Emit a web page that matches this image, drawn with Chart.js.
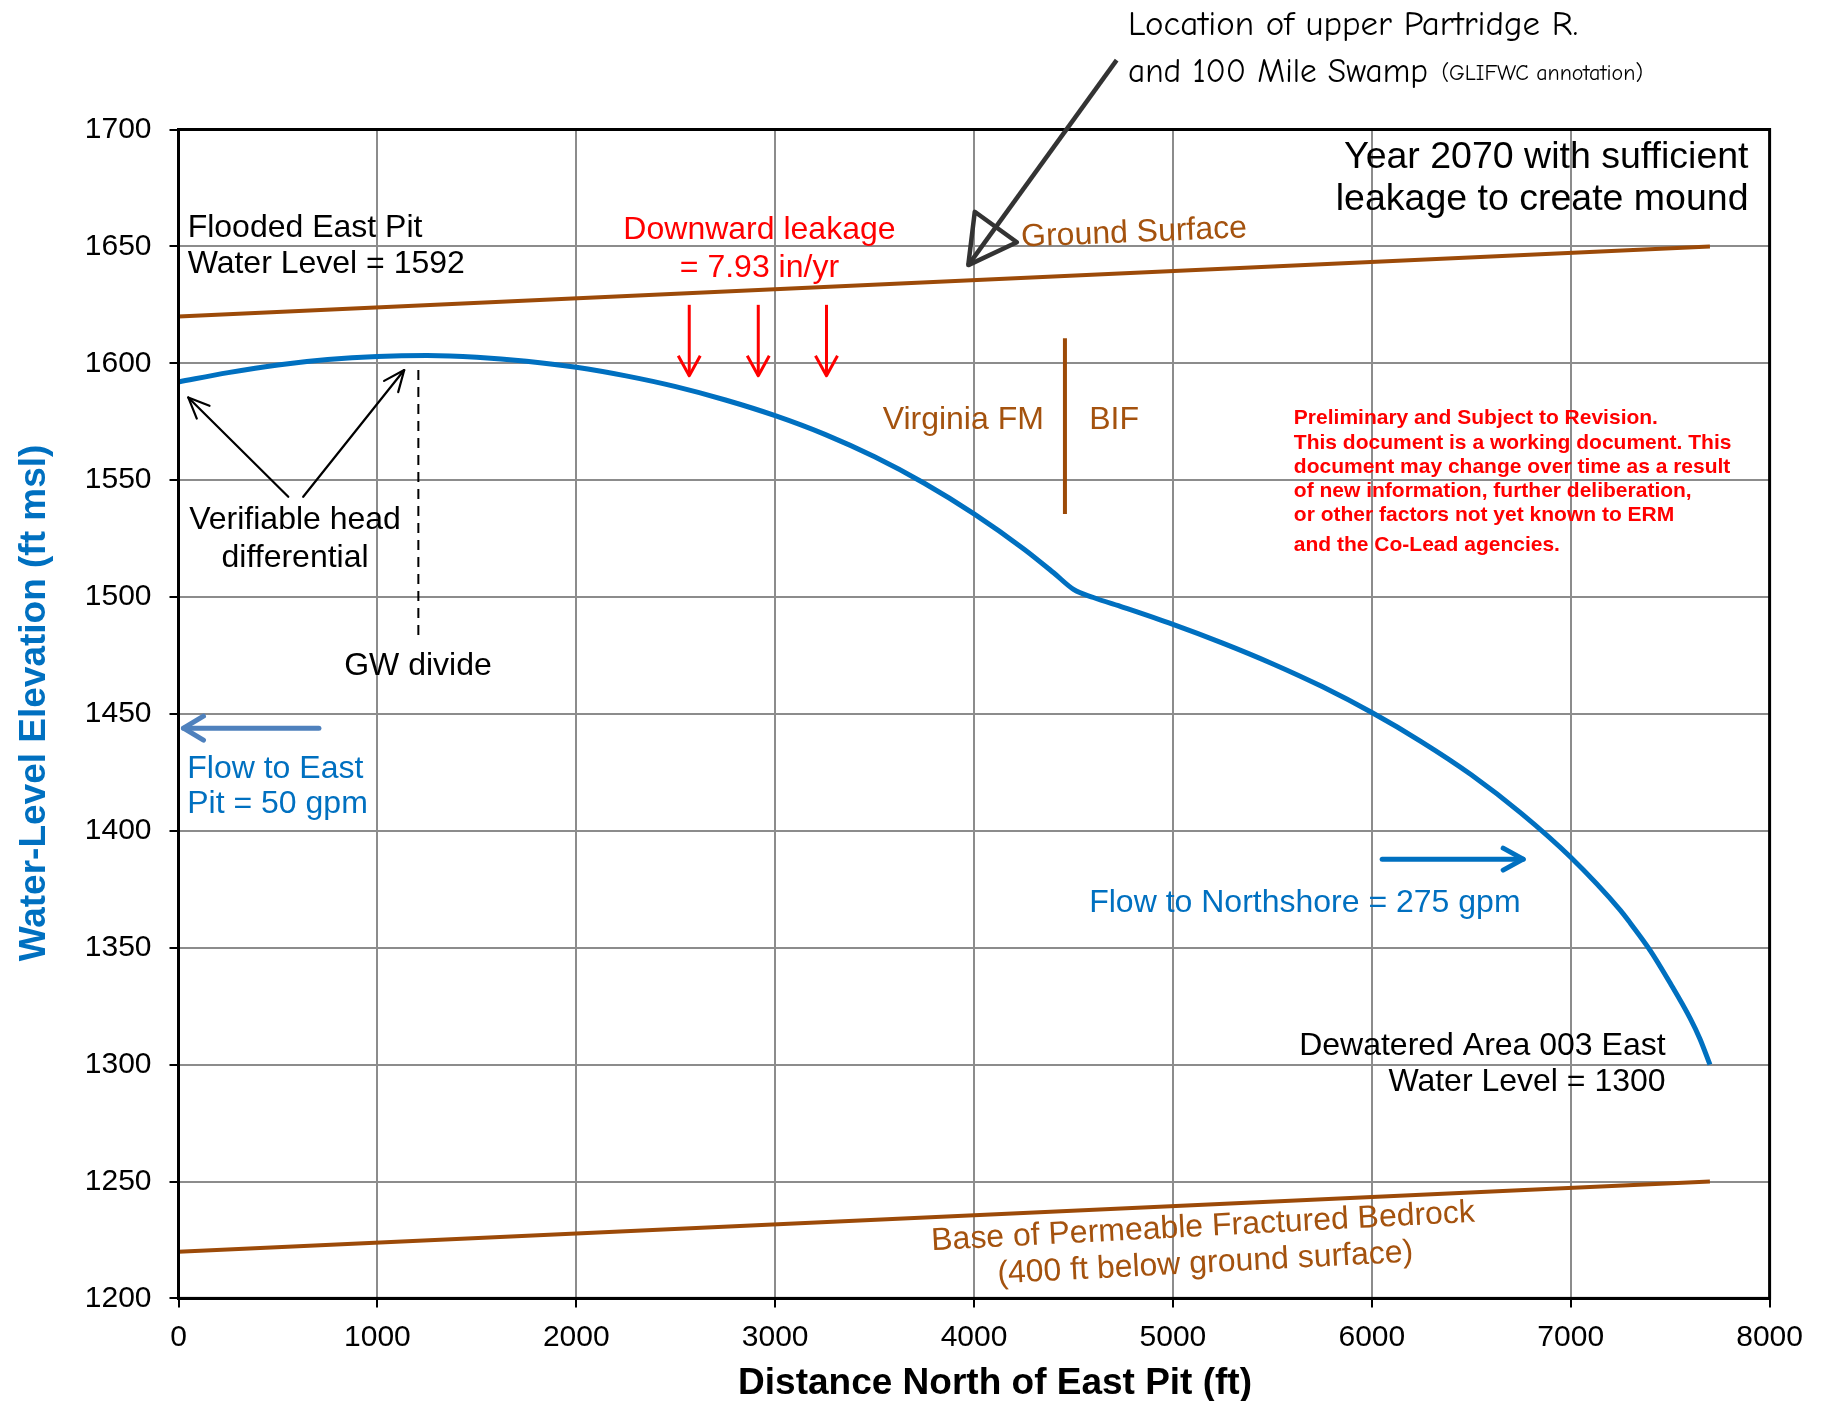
<!DOCTYPE html>
<html>
<head>
<meta charset="utf-8">
<title>Water-level profile - Year 2070</title>
<script src="https://cdn.jsdelivr.net/npm/chart.js@4.4.0/dist/chart.umd.min.js"></script>
<style>
  html, body { margin: 0; padding: 0; background: #fff; }
  #wrap { width: 1829px; height: 1401px; }
</style>
</head>
<body>
<div id="wrap"><canvas id="profileChart" width="1829" height="1401"></canvas></div>
<script>
// Simulated water table: distance north of East Pit (ft) vs elevation (ft msl)
const distanceFt = [0, 250, 500, 750, 1000, 1250, 1500, 1750, 2000, 2250, 2500, 2750,
    3000, 3250, 3500, 3750, 4000, 4250, 4400, 4500, 4600, 4750, 5000, 5250, 5500,
    5750, 6000, 6250, 6500, 6750, 7000, 7250, 7300, 7400, 7500, 7600, 7650, 7700];
const waterLevel = [1592.0, 1596.0, 1599.3, 1601.6, 1602.9, 1603.3, 1602.6, 1600.9, 1598.3,
    1594.6, 1590.0, 1584.3, 1577.6, 1569.6, 1560.0, 1548.7, 1535.6, 1520.6, 1510.4, 1503.3,
    1499.8, 1495.6, 1488.3, 1480.3, 1471.5, 1461.7, 1450.6, 1438.1, 1424.0, 1407.6, 1388.7,
    1366.0, 1360.5, 1348.8, 1334.9, 1319.9, 1311.0, 1300.0];

// Ground surface and base of permeable fractured bedrock (400 ft below ground)
const surfaceDistance = [0, 7700];
const groundSurface = [1620, 1650];
const bedrockBase = [1220, 1250];

// Axis ticks
const xTicks = [0, 1000, 2000, 3000, 4000, 5000, 6000, 7000, 8000];
const yTicks = [1200, 1250, 1300, 1350, 1400, 1450, 1500, 1550, 1600, 1650, 1700];

// Leakage arrows (ft along profile)
const leakageArrowX = [2568, 2915, 3258];

const BLUE = '#0070C0';
const BROWN = '#9C4A08';
const BROWN_TEXT = '#A4520E';
const RED = '#FF0000';
const STEEL = '#4F81BD';
const SANS = '"Liberation Sans", Arial, Helvetica, sans-serif';
const COMIC = '"Comic Sans MS", "Comic Neue", "DejaVu Sans", sans-serif';

const toPoints = (xs, ys) => xs.map((x, i) => ({ x: x, y: ys[i] }));

// text blocks placed in data units: x, y = anchor of first baseline
const textNotes = [
    { lines: ['Flooded East Pit', 'Water Level = 1592'], x: 46, y: 1654.1, gap: 36, align: 'left', color: '#000' },
    { lines: ['Downward leakage', '= 7.93 in/yr'], x: 2921, y: 1653.2, gap: 37.7, align: 'center', color: RED },
    { lines: ['Year 2070 with sufficient', 'leakage to create mound'], x: 7894, y: 1683.5, gap: 42, align: 'right', color: '#000', size: 37.5 },
    { lines: ['Virginia FM'], x: 4351, y: 1571.8, align: 'right', color: BROWN_TEXT },
    { lines: ['BIF'], x: 4579, y: 1571.8, align: 'left', color: BROWN_TEXT },
    { lines: ['Verifiable head', 'differential'], x: 586, y: 1529.0, gap: 37.4, align: 'center', color: '#000' },
    { lines: ['GW divide'], x: 1204, y: 1466.7, align: 'center', color: '#000' },
    { lines: ['Flow to East', 'Pit = 50 gpm'], x: 44, y: 1422.7, gap: 35.6, align: 'left', color: BLUE },
    { lines: ['Flow to Northshore = 275 gpm'], x: 4579, y: 1365.4, align: 'left', color: BLUE },
    { lines: ['Dewatered Area 003 East', 'Water Level = 1300'], x: 7477, y: 1304.1, gap: 36, align: 'right', color: '#000' },
    { lines: ['Ground Surface'], x: 4239, y: 1649.9, align: 'left', color: BROWN_TEXT, angle: -2.4 },
    { lines: ['Base of Permeable Fractured Bedrock'], x: 5154, y: 1226.7, align: 'center', color: BROWN_TEXT, angle: -3 },
    { lines: ['(400 ft below ground surface)'], x: 5165, y: 1211.1, align: 'center', color: BROWN_TEXT, angle: -3 },
    { lines: ['Preliminary and Subject to Revision.',
              'This document is a working document. This',
              'document may change over time as a result',
              'of new information, further deliberation,',
              'or other factors not yet known to ERM'],
      x: 5608, y: 1573.9, gap: 24.3, align: 'left', color: RED, size: 21, weight: 'bold' },
    { lines: ['and the Co-Lead agencies.'], x: 5608, y: 1519.8, align: 'left', color: RED, size: 21, weight: 'bold' }
];

function drawArrow(ctx, x1, y1, x2, y2, o) {
    const ang = Math.atan2(y2 - y1, x2 - x1);
    ctx.strokeStyle = o.color;
    ctx.lineWidth = o.width;
    ctx.lineCap = o.cap || 'round';
    ctx.lineJoin = 'round';
    ctx.beginPath();
    ctx.moveTo(x1, y1);
    ctx.lineTo(x2, y2);
    ctx.stroke();
    const bx = x2 - o.head * Math.cos(ang), by = y2 - o.head * Math.sin(ang);
    const nx = -Math.sin(ang) * o.half, ny = Math.cos(ang) * o.half;
    ctx.beginPath();
    ctx.moveTo(bx + nx, by + ny);
    ctx.lineTo(x2, y2);
    ctx.lineTo(bx - nx, by - ny);
    if (o.closed) ctx.closePath();
    ctx.stroke();
}

const profileNotes = {
    id: 'profileNotes',
    afterDraw(chart) {
        const ctx = chart.ctx;
        const area = chart.chartArea;
        const px = v => chart.scales.x.getPixelForValue(v);
        const py = v => chart.scales.y.getPixelForValue(v);
        ctx.save();

        // plot frame
        ctx.strokeStyle = '#000';
        ctx.lineWidth = 3;
        ctx.strokeRect(area.left, area.top, area.right - area.left, area.bottom - area.top);

        // axis titles
        ctx.font = 'bold 37px ' + SANS;
        ctx.textAlign = 'center';
        ctx.textBaseline = 'alphabetic';
        ctx.fillStyle = '#000';
        ctx.fillText('Distance North of East Pit (ft)', area.left + (area.right - area.left) / 2 + 21, 1394);
        ctx.save();
        ctx.translate(45, 703);
        ctx.rotate(-Math.PI / 2);
        ctx.fillStyle = BLUE;
        ctx.fillText('Water-Level Elevation (ft msl)', 0, 0);
        ctx.restore();

        // Virginia FM / BIF contact
        ctx.strokeStyle = BROWN;
        ctx.lineWidth = 4;
        ctx.beginPath();
        ctx.moveTo(px(4457), py(1610.7));
        ctx.lineTo(px(4457), py(1535.5));
        ctx.stroke();

        // groundwater divide
        ctx.strokeStyle = '#000';
        ctx.lineWidth = 2;
        ctx.setLineDash([10, 7]);
        ctx.beginPath();
        ctx.moveTo(px(1206), py(1597.1));
        ctx.lineTo(px(1206), py(1481.6));
        ctx.stroke();
        ctx.setLineDash([]);

        // head differential pointers
        drawArrow(ctx, px(552), py(1542.9), px(49), py(1585.4), { color: '#000', width: 2.2, head: 21, half: 9 });
        drawArrow(ctx, px(627), py(1542.9), px(1135), py(1597.1), { color: '#000', width: 2.2, head: 21, half: 9 });

        // downward leakage
        leakageArrowX.forEach(x => {
            drawArrow(ctx, px(x), py(1625), px(x), py(1594.7), { color: RED, width: 3, head: 20, half: 11, cap: 'butt' });
        });

        // flow directions
        drawArrow(ctx, px(706), py(1443.9), px(25), py(1443.9), { color: STEEL, width: 5, head: 20, half: 12 });
        drawArrow(ctx, px(6052), py(1387.9), px(6761), py(1387.9), { color: BLUE, width: 5, head: 20, half: 11 });

        // GLIFWC pointer (runs above the plot area)
        drawArrow(ctx, px(4717), py(1729.7), px(3971), py(1642.0), { color: '#333', width: 4.5, head: 47, half: 26, closed: true, cap: 'butt' });

        // text blocks
        textNotes.forEach(n => {
            ctx.font = (n.weight || 'normal') + ' ' + (n.size || 32) + 'px ' + SANS;
            ctx.fillStyle = n.color;
            ctx.textAlign = n.align;
            const x0 = px(n.x), y0 = py(n.y);
            ctx.save();
            ctx.translate(x0, y0);
            if (n.angle) ctx.rotate(n.angle * Math.PI / 180);
            n.lines.forEach((t, i) => ctx.fillText(t, 0, i * (n.gap || 0)));
            ctx.restore();
        });

        // GLIFWC note, top of the figure
        ctx.fillStyle = '#000';
        ctx.textAlign = 'left';
        ctx.font = '35px ' + COMIC;
        ctx.fillText('Location of upper Partridge R.', px(4774), py(1740.4), 450);
        ctx.fillText('and 100 Mile Swamp', px(4774), py(1720.4), 300);
        ctx.font = '22px ' + COMIC;
        ctx.fillText('(GLIFWC annotation)', px(6350), py(1721.2), 211);

        ctx.restore();
    }
};

new Chart(document.getElementById('profileChart').getContext('2d'), {
    type: 'line',
    data: {
        datasets: [{
            label: 'Water level',
            data: toPoints(distanceFt, waterLevel),
            borderColor: BLUE,
            borderWidth: 5,
            pointRadius: 0,
            cubicInterpolationMode: 'monotone',
            fill: false
        }, {
            label: 'Ground surface',
            data: toPoints(surfaceDistance, groundSurface),
            borderColor: BROWN,
            borderWidth: 4,
            pointRadius: 0,
            fill: false
        }, {
            label: 'Base of permeable fractured bedrock',
            data: toPoints(surfaceDistance, bedrockBase),
            borderColor: BROWN,
            borderWidth: 4,
            pointRadius: 0,
            fill: false
        }]
    },
    options: {
        responsive: false,
        animation: false,
        devicePixelRatio: 1,
        layout: { padding: { top: 129.5, right: 59.4, left: 0, bottom: 0 } },
        plugins: { legend: { display: false }, tooltip: { enabled: false } },
        scales: {
            x: {
                type: 'linear',
                min: 0,
                max: 8000,
                afterBuildTicks: s => { s.ticks = xTicks.map(v => ({ value: v })); },
                afterFit: s => { s.height = 102.6; },
                grid: { color: '#8c8c8c', lineWidth: 2, tickLength: 9, tickColor: '#000', tickWidth: 2 },
                border: { color: '#000', width: 3 },
                ticks: { color: '#000', autoSkip: false, maxRotation: 0, padding: 12,
                         callback: v => String(v), font: { family: SANS, size: 30 } },
                title: { display: false }
            },
            y: {
                min: 1200,
                max: 1700,
                afterBuildTicks: s => { s.ticks = yTicks.map(v => ({ value: v })); },
                afterFit: s => { s.width = 178.5; },
                grid: { color: '#8c8c8c', lineWidth: 2, tickLength: 9, tickColor: '#000', tickWidth: 2 },
                border: { color: '#000', width: 3 },
                ticks: { color: '#000', padding: 18, callback: v => String(v),
                         font: { family: SANS, size: 30 } },
                title: { display: false }
            }
        }
    },
    plugins: [profileNotes]
});
</script>
</body>
</html>
